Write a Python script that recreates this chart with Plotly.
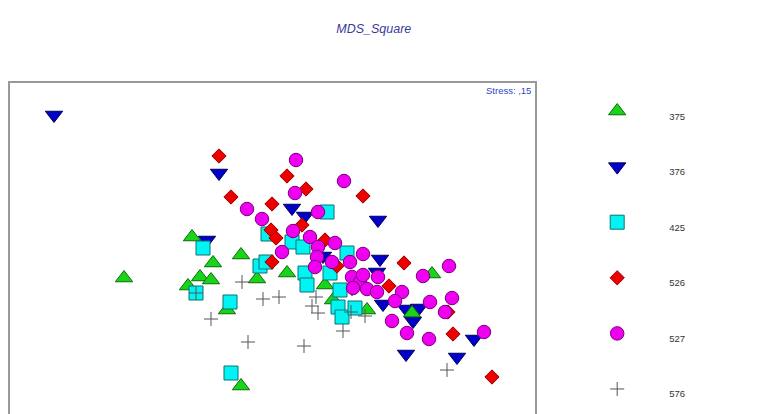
import plotly.graph_objects as go

# MDS configuration (dimension 1, dimension 2) per group
groups = ["375", "376", "425", "526", "527", "576"]

g375_x = [-1.46, -0.78, -0.57, -0.70, -0.59, -0.82, -0.29, -0.13, -0.43, 0.17, 0.55, 0.63, 0.97, 1.42, 1.62, -0.29]
g375_y = [-0.28, 0.13, -0.13, -0.27, -0.30, -0.36, -0.05, -0.29, -0.60, -0.23, -0.35, -0.50, -0.60, -0.63, -0.24, -1.36]

g376_x = [-2.16, -0.51, -0.63, 0.22, 0.35, 1.08, 0.53, 1.10, 1.07, 0.82, 1.13, 1.36, 1.49, 1.43, 1.36, 1.87, 2.04]
g376_y = [1.35, 0.77, 0.10, 0.42, 0.34, 0.30, -0.06, -0.09, -0.22, -0.38, -0.54, -0.59, -0.58, -0.71, -1.04, -1.07, -0.89]

g425_x = [-0.67, -0.74, -0.40, -0.39, -0.10, -0.04, -0.02, 0.22, 0.33, 0.57, 0.77, 0.35, 0.37, 0.60, 0.70, 0.68, 0.72, 0.85]
g425_y = [0.02, -0.43, -0.52, -1.23, -0.16, -0.12, 0.16, 0.08, 0.03, 0.38, -0.03, -0.23, -0.35, -0.23, -0.40, -0.57, -0.67, -0.58]

g526_x = [-0.51, -0.39, 0.17, 0.36, 0.93, 0.02, 0.32, 0.01, 0.06, 0.55, 0.02, 0.67, 1.34, 1.19, 1.78, 1.83, 2.22]
g526_y = [0.94, 0.53, 0.74, 0.61, 0.54, 0.46, 0.25, 0.20, 0.12, 0.10, -0.12, -0.16, -0.13, -0.36, -0.62, -0.84, -1.27]

g527_x = [0.26, 0.74, 0.25, 0.48, -0.23, -0.08, 0.23, 0.40, 0.12, 0.48, 0.65, 0.47, 0.45, 0.62, 0.80, 0.93, 0.82,
          0.90, 0.93, 0.97, 1.08, 1.07, 0.83, 1.32, 1.25, 1.60, 1.82, 1.75, 1.22, 1.37, 1.59, 2.14, 1.53, 1.79]
g527_y = [0.90, 0.69, 0.57, 0.38, 0.41, 0.31, 0.19, 0.13, -0.02, 0.03, 0.07, -0.07, -0.17, -0.12, -0.12, -0.04, -0.27,
          -0.32, -0.25, -0.39, -0.27, -0.42, -0.38, -0.42, -0.51, -0.52, -0.48, -0.62, -0.71, -0.83, -0.89, -0.82, -0.26, -0.16]

g576_x = [-0.74, -0.59, -0.28, -0.07, 0.09, -0.22, 0.34, 0.46, 0.42, 0.48, 0.73, 0.81, 0.95, 1.77]
g576_y = [-0.43, -0.69, -0.32, -0.49, -0.47, -0.92, -0.96, -0.47, -0.56, -0.63, -0.81, -0.62, -0.66, -1.20]

stress_label = "Stress: ,15"
title_text = "MDS_Square"

xs = {"375": g375_x, "376": g376_x, "425": g425_x, "526": g526_x, "527": g527_x, "576": g576_x}
ys = {"375": g375_y, "376": g376_y, "425": g425_y, "526": g526_y, "527": g527_y, "576": g576_y}

styles = {
    "375": dict(symbol="triangle-up", size=15, color="#19d419", line=dict(color="#0b6b0b", width=1)),
    "376": dict(symbol="triangle-down", size=15, color="#0000c8", line=dict(color="#00005e", width=1)),
    "425": dict(symbol="square", size=14, color="#00f4f4", line=dict(color="#0a7373", width=1)),
    "526": dict(symbol="diamond", size=11, color="#ee0000", line=dict(color="#990000", width=1)),
    "527": dict(symbol="circle", size=13.5, color="#f000f0", line=dict(color="#7a007a", width=1)),
    "576": dict(symbol="cross-thin", size=10, color="#555555", line=dict(color="#555555", width=1)),
}

draw_order = ["376", "375", "425", "526", "527", "576"]

fig = go.Figure()

for g in draw_order:
    fig.add_trace(go.Scatter(
        x=xs[g], y=ys[g], mode="markers", name=g,
        marker=styles[g], showlegend=False, hoverinfo="skip",
        xaxis="x", yaxis="y",
    ))

# hand-built legend column on its own axes
rows = list(range(len(groups)))
for i, g in enumerate(groups):
    fig.add_trace(go.Scatter(
        x=[0.2], y=[i], mode="markers", marker=styles[g],
        showlegend=False, hoverinfo="skip", xaxis="x2", yaxis="y2",
    ))
fig.add_trace(go.Scatter(
    x=[0.48] * len(groups), y=[r + 0.11 for r in rows], mode="text",
    text=groups, textposition="middle right",
    textfont=dict(family="Liberation Sans, Arial, sans-serif", size=9.5, color="#333333"),
    showlegend=False, hoverinfo="skip", xaxis="x2", yaxis="y2",
))

W, H = 766, 414
fig.update_layout(
    width=W, height=H,
    margin=dict(l=0, r=0, t=0, b=0),
    paper_bgcolor="white", plot_bgcolor="white",
    xaxis=dict(domain=[10 / W, 535 / W], range=[-2.60, 2.65], showgrid=False, zeroline=False,
               showticklabels=False, ticks="", showline=True, side="top", mirror=False,
               linecolor="#999999", linewidth=2),
    yaxis=dict(domain=[0, (H - 83) / H], range=[-1.64, 1.67], showgrid=False, zeroline=False,
               showticklabels=False, ticks="", showline=True, mirror=True,
               linecolor="#999999", linewidth=2),
    xaxis2=dict(domain=[580 / W, 1], range=[0, 1], visible=False, anchor="y2"),
    yaxis2=dict(domain=[0, (H - 83) / H], range=[5.45, -0.504], visible=False, anchor="x2"),
    showlegend=False,
    hovermode=False,
    title=dict(text=title_text, x=0.488, xanchor="center", y=1 - 29 / H, yanchor="middle",
               font=dict(family="Liberation Sans, Arial, sans-serif", size=12.5, color="#3a3a9a",
                         style="italic")),
    annotations=[dict(text=stress_label, xref="paper", yref="paper", x=533 / W, y=1 - 91 / H,
                      xanchor="right", yanchor="middle", showarrow=False,
                      font=dict(family="Liberation Sans, Arial, sans-serif", size=9.5, color="#3344cc"))],
)

fig.write_html("out.html", config={"displayModeBar": False})
